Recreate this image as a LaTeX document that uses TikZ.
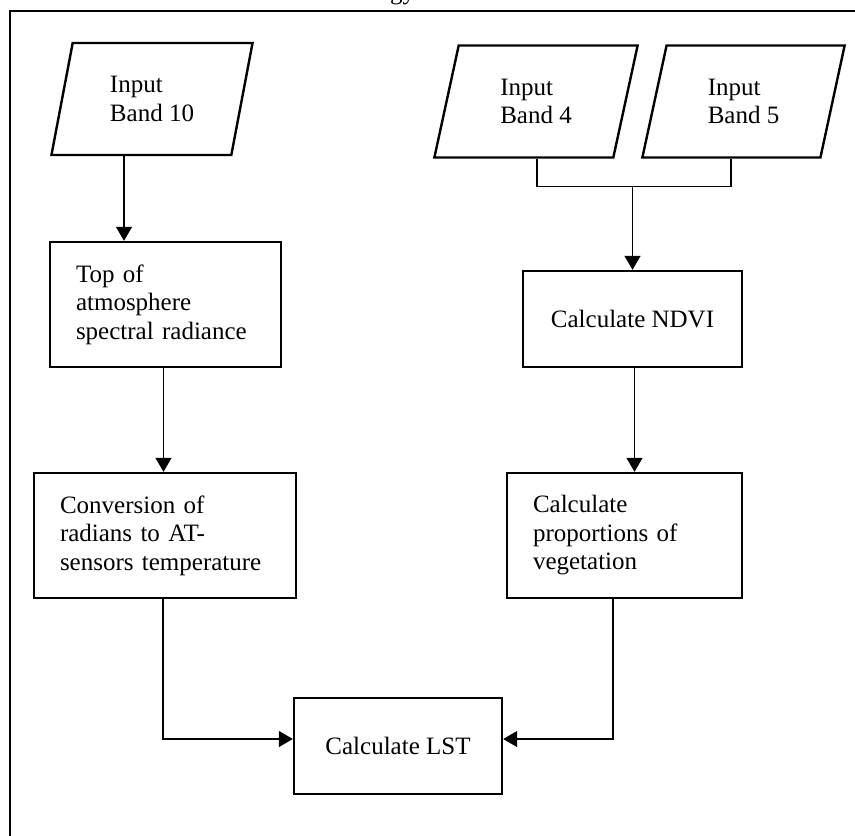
\documentclass[tikz,border=0pt]{standalone}
\usepackage{fontspec}
\setmainfont{Liberation Serif}
\usepackage{xcolor}
\usepackage{tikz}
\usetikzlibrary{arrows.meta,shapes.geometric,positioning,calc}

\begin{document}
\begin{tikzpicture}[x=0.5pt,y=-0.5pt,
  font=\fontsize{12.5}{14.25}\selectfont,
  inbox/.style={draw,line width=1.2pt,trapezium,trapezium left angle=76,trapezium right angle=104,
    trapezium stretches=true,minimum height=56pt,align=left,inner sep=0pt},
  procbox/.style={draw,line width=1.2pt,align=left,inner xsep=13pt,inner ysep=0pt},
  midbox/.style={draw,line width=1.2pt,align=center,inner sep=0pt},
  conn/.style={line width=0.6pt},
  arr/.style={line width=0.6pt,-{Triangle[length=7pt,width=8pt]}}]
  \useasboundingbox (0,0) rectangle (855,835);
  \draw[line width=1.1pt] (10,850) -- (10,11) -- (870,11);
  \node[anchor=base west] (ttl) at (383,0) {gy};

  \node[inbox,minimum width=101pt] (b10) at (152,99) {Input\\Band 10};
  \node[inbox,minimum width=102pt] (b4) at (536,101.5) {Input\\Band 4};
  \node[inbox,minimum width=101.5pt] (b5) at (743.5,101.5) {Input\\Band 5};

  \node[procbox,text width=89.5pt,minimum height=62.5pt] (toa) at (165.5,304.5) {Top of\\atmosphere\\spectral radiance};
  \node[procbox,text width=105pt,minimum height=62.5pt] (conv) at (165,535.5) {Conversion of\\radians to AT-\\sensors temperature};
  \node[midbox,minimum width=109.5pt,minimum height=48pt] (ndvi) at (632.5,319) {Calculate NDVI};
  \node[procbox,text width=91.5pt,minimum height=62.5pt] (prop) at (624.5,535.5) {Calculate\\proportions of\\vegetation};
  \node[midbox,minimum width=104pt,minimum height=48pt] (lst) at (398,746) {Calculate LST};

  \draw[arr] ([xshift=-14pt]b10.south) -- ([xshift=-14pt]b10.south |- toa.north);
  \draw[conn] ([xshift=0.5pt]b4.south) -- ++(0,28) coordinate (jn) -| ([xshift=-6.25pt]b5.south);
  \draw[arr] (ndvi.north |- jn) -- (ndvi.north);
  \draw[arr] ([xshift=-1pt]toa.south) -- ([xshift=-1pt]toa.south |- conv.north);
  \draw[arr] ([xshift=1pt]ndvi.south) -- ([xshift=1pt]ndvi.south |- prop.north);
  \draw[arr] ([xshift=-1pt]conv.south) |- ([yshift=3.5pt]lst.west);
  \draw[arr] ([xshift=-5.75pt]prop.south) |- ([yshift=3.5pt]lst.east);
\end{tikzpicture}
\end{document}
